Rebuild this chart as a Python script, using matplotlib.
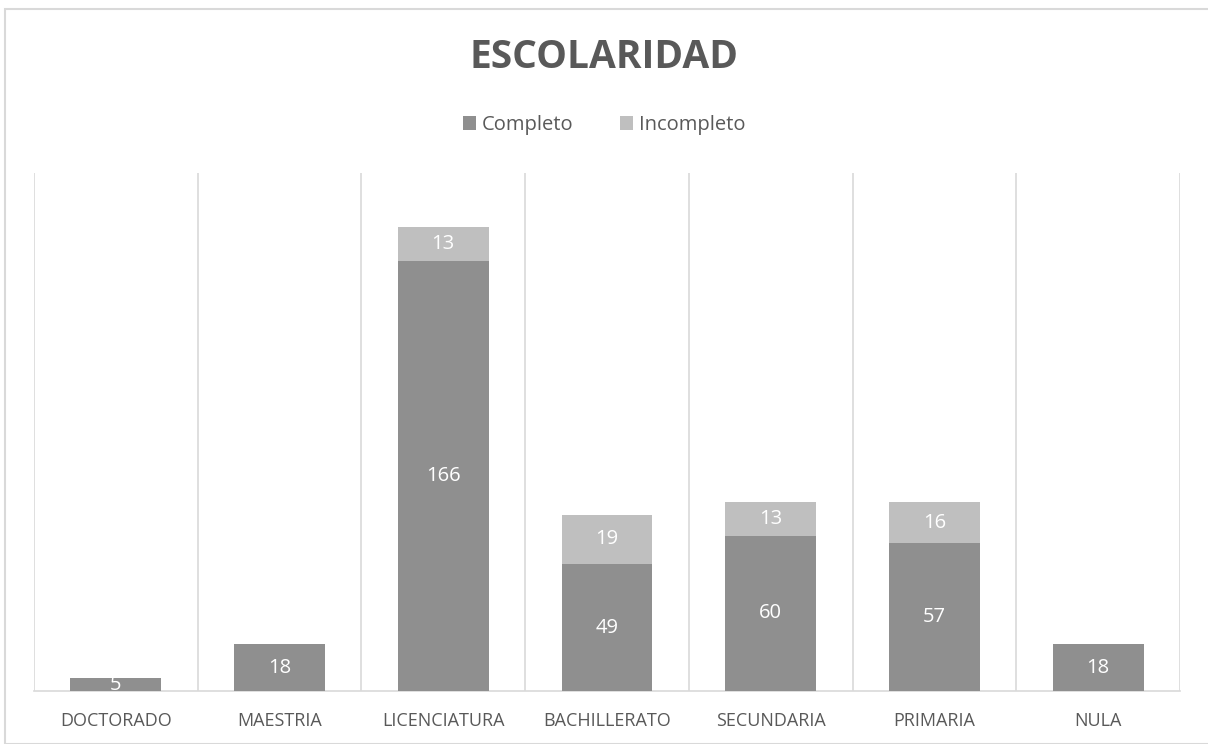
import matplotlib
matplotlib.use("Agg")
import matplotlib.pyplot as plt
import numpy as np
from matplotlib.patches import Rectangle

# datos de escolaridad
niveles = ["DOCTORADO", "MAESTRIA", "LICENCIATURA", "BACHILLERATO",
           "SECUNDARIA", "PRIMARIA", "NULA"]
completo = [5, 18, 166, 49, 60, 57, 18]
incompleto = [0, 0, 13, 19, 13, 16, 0]

plt.rcParams['font.family'] = ['Open Sans', 'DejaVu Sans']

gris_osc = "#8f8f8f"
gris_cla = "#bfbfbf"
texto = "#595959"

fig = plt.figure(figsize=(12.08, 7.44), dpi=100)
ax = fig.add_axes([34 / 1208, 1 - 691 / 744, 1146 / 1208, 518 / 744])

x = np.arange(len(niveles))
ancho = 1 / 1.8
b1 = ax.bar(x, completo, ancho, color=gris_osc, label="Completo", zorder=3)
inc = np.array(incompleto)
b2 = ax.bar(x, inc, ancho, bottom=completo, color=gris_cla,
            label="Incompleto", zorder=3)

# etiquetas de datos
for i in range(len(niveles)):
    ax.text(x[i], completo[i] / 2, str(completo[i]), ha="center", va="center",
            color="white", fontsize=14.5, zorder=4, clip_on=True)
    if incompleto[i] > 0:
        ax.text(x[i], completo[i] + incompleto[i] / 2, str(incompleto[i]),
                ha="center", va="center", color="white", fontsize=14.5, zorder=4)

ax.set_xlim(-0.5, len(niveles) - 0.5)
ax.set_ylim(0, 200)
ax.set_xticks(x)
ax.set_xticklabels(niveles, fontsize=13, color=texto)
ax.tick_params(axis="x", length=0, pad=15)
ax.set_yticks([])

for s in ["left", "right", "top"]:
    ax.spines[s].set_visible(False)
ax.spines["bottom"].set_color("#d9d9d9")
ax.spines["bottom"].set_linewidth(1.2)

for g in np.arange(-0.5, len(niveles), 1):
    ax.axvline(g, color="#d9d9d9", lw=1.2, zorder=1)

fig.text(0.5, 1 - 57 / 744, "ESCOLARIDAD", ha="center", va="center",
         fontsize=28, fontweight="bold", color=texto)

fig.legend(handles=[b1, b2], loc="center", bbox_to_anchor=(0.5, 1 - 125 / 744),
           ncol=2, frameon=False, fontsize=14.5, labelcolor=texto,
           handlelength=0.65, handleheight=0.65, handletextpad=0.3,
           columnspacing=2.3)

# marco exterior
fig.patches.append(Rectangle((5 / 1208, 0), 1.0, 1 - 9 / 744,
                             transform=fig.transFigure, fill=False,
                             edgecolor="#d9d9d9", lw=1.5))

fig.savefig("out.png", dpi=100)
